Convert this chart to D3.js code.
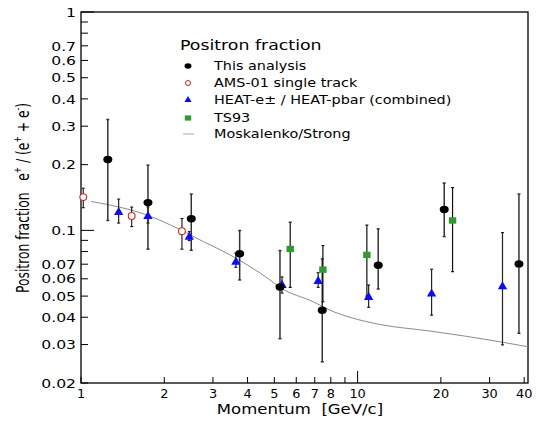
<!DOCTYPE html>
<html>
<head>
<meta charset="utf-8">
<script src="https://cdn.jsdelivr.net/npm/d3@7"></script>
<style>
  body { margin: 0; background: #fff; }
  svg { display: block; font-family: "DejaVu Sans", sans-serif; }
  text { white-space: pre; }
</style>
</head>
<body>
<svg id="chart" width="536" height="422"></svg>
<script>
// This analysis
const thisX = [1.25, 1.746, 2.504, 3.746, 5.24, 7.45, 11.87, 20.56, 38.3];
const thisY = [0.211, 0.134, 0.113, 0.0782, 0.055, 0.0431, 0.0692, 0.1246, 0.0702];
const thisLo = [0.111, 0.082, 0.0811, 0.0593, 0.0319, 0.025, 0.0539, 0.0937, 0.0338];
const thisHi = [0.322, 0.199, 0.1466, 0.0998, 0.0808, 0.074, 0.1016, 0.1647, 0.1466];

// AMS-01 single track
const amsX = [1.019, 1.525, 2.317];
const amsY = [0.142, 0.1165, 0.0992];
const amsLo = [0.127, 0.1041, 0.082];
const amsHi = [0.156, 0.1278, 0.1133];

// HEAT combined
const heatX = [1.368, 1.746, 2.463, 3.63, 5.33, 7.2, 10.96, 18.51, 33.4];
const heatY = [0.1216, 0.1165, 0.0937, 0.0719, 0.0564, 0.0588, 0.0497, 0.0515, 0.0556];
const heatLo = [0.108, 0.108, 0.0898, 0.0677, 0.0516, 0.0548, 0.0444, 0.0409, 0.0299];
const heatHi = [0.139, 0.128, 0.0987, 0.0787, 0.0612, 0.064, 0.0562, 0.0664, 0.0977];

// TS93
const tsX = [5.706, 7.49, 10.8, 22.04];
const tsY = [0.0822, 0.0661, 0.0772, 0.111];
const tsLo = [0.0548, 0.0471, 0.05, 0.0647];
const tsHi = [0.109, 0.0852, 0.1057, 0.157];

// Moskalenko/Strong model
const modelX = [1.087, 1.37, 1.75, 2.1, 2.77, 3.46, 4.82, 5.24, 6.91, 7.94, 9.38, 12.0, 18.25, 32.7, 41.3];
const modelY = [0.1356, 0.128, 0.117, 0.106, 0.0888, 0.0772, 0.0593, 0.0548, 0.0471, 0.0431, 0.040, 0.0371, 0.0346, 0.0309, 0.0293];

const yTicks = [0.02, 0.03, 0.04, 0.05, 0.06, 0.07, 0.08, 0.09, 0.1, 0.2, 0.3, 0.4, 0.5, 0.6, 0.7, 0.8, 0.9, 1];
const yLabels = [0.02, 0.03, 0.04, 0.05, 0.06, 0.07, 0.1, 0.2, 0.3, 0.4, 0.5, 0.6, 0.7, 1];
const xTicks = [1, 2, 3, 4, 5, 6, 7, 8, 9, 10, 20, 30, 40];
const xLabels = [1, 2, 3, 4, 5, 6, 7, 8, 10, 20, 30, 40];

const legendNames = ["This analysis", "AMS-01 single track", "HEAT-e\u00b1 / HEAT-pbar (combined)", "TS93", "Moskalenko/Strong"];

const svg = d3.select("#chart");
const box = { left: 81, right: 528, top: 12, bottom: 383 };
const stretch = 1.2; // text in the original is a bit wider than DejaVu

const x = d3.scaleLog().domain([1, 41.3]).range([box.left, box.right]);
const y = d3.scaleLog().domain([0.02, 1]).range([box.bottom, box.top]);

// frame
svg.append("rect")
  .attr("x", box.left).attr("y", box.top)
  .attr("width", box.right - box.left).attr("height", box.bottom - box.top)
  .attr("fill", "none").attr("stroke", "#000").attr("stroke-width", 1.3);

// y ticks (inward)
svg.append("g").selectAll("line").data(yTicks).join("line")
  .attr("x1", box.left).attr("x2", d => (d === 0.1 || d === 1) ? box.left + 13 : box.left + 7)
  .attr("y1", d => y(d)).attr("y2", d => y(d))
  .attr("stroke", "#000").attr("stroke-width", 1);

svg.append("g").selectAll("text").data(yLabels).join("text")
  .attr("transform", d => `translate(76,${y(d)}) scale(${stretch},1)`)
  .attr("dy", "0.36em")
  .attr("text-anchor", "end").attr("font-size", 13)
  .text(d => d);

// x ticks (inward)
svg.append("g").selectAll("line").data(xTicks).join("line")
  .attr("x1", d => x(d)).attr("x2", d => x(d))
  .attr("y1", box.bottom).attr("y2", d => d === 10 ? box.bottom - 12 : box.bottom - 6)
  .attr("stroke", "#000").attr("stroke-width", 1);

svg.append("g").selectAll("text").data(xLabels).join("text")
  .attr("transform", d => `translate(${x(d)},398) scale(1.12,1)`)
  .attr("text-anchor", "middle").attr("font-size", 11.5)
  .text(d => d);

svg.append("text")
  .attr("transform", `translate(300,414) scale(1.18,1)`)
  .attr("text-anchor", "middle").attr("font-size", 14)
  .text("Momentum  [GeV/c]");

// y label
const yl = svg.append("text")
  .attr("transform", "translate(29,198) rotate(-90)")
  .attr("text-anchor", "middle").attr("font-size", 18)
  .attr("textLength", 190).attr("lengthAdjust", "spacingAndGlyphs");
yl.append("tspan").text("Positron fraction   e");
yl.append("tspan").attr("font-size", 11).attr("dy", -8).text("+");
yl.append("tspan").attr("dy", 8).text(" / (e");
yl.append("tspan").attr("font-size", 11).attr("dy", -8).text("+");
yl.append("tspan").attr("dy", 8).text(" + e");
yl.append("tspan").attr("font-size", 11).attr("dy", -8).text("-");
yl.append("tspan").attr("dy", 8).text(")");

// model curve
const plot = svg.append("g");
plot.append("path")
  .datum(d3.zip(modelX, modelY))
  .attr("fill", "none").attr("stroke", "#8c8c8c").attr("stroke-width", 1)
  .attr("d", d3.line().x(d => x(d[0])).y(d => y(d[1])).curve(d3.curveMonotoneX));

function errorBars(xs, lo, hi, color, w) {
  const g = plot.append("g").attr("stroke", color).attr("stroke-width", w);
  const rows = d3.range(xs.length);
  g.selectAll(".v").data(rows).join("line")
    .attr("x1", i => x(xs[i])).attr("x2", i => x(xs[i]))
    .attr("y1", i => y(lo[i])).attr("y2", i => y(hi[i]));
  g.selectAll(".t").data(rows).join("line")
    .attr("x1", i => x(xs[i]) - 1.5).attr("x2", i => x(xs[i]) + 1.5)
    .attr("y1", i => y(hi[i])).attr("y2", i => y(hi[i]));
  g.selectAll(".b").data(rows).join("line")
    .attr("x1", i => x(xs[i]) - 1.5).attr("x2", i => x(xs[i]) + 1.5)
    .attr("y1", i => y(lo[i])).attr("y2", i => y(lo[i]));
}

errorBars(thisX, thisLo, thisHi, "#333", 1.5);
errorBars(amsX, amsLo, amsHi, "#111", 1.1);
errorBars(heatX, heatLo, heatHi, "#222", 1.2);
errorBars(tsX, tsLo, tsHi, "#111", 1.2);

const tri = d3.symbol().type(d3.symbolTriangle).size(38);

plot.append("g").selectAll("circle").data(d3.range(amsX.length)).join("circle")
  .attr("cx", i => x(amsX[i])).attr("cy", i => y(amsY[i])).attr("r", 3.4)
  .attr("fill", "#fff").attr("stroke", "#d42020").attr("stroke-width", 1.1);

plot.append("g").selectAll("path").data(d3.range(heatX.length)).join("path")
  .attr("transform", i => `translate(${x(heatX[i])},${y(heatY[i]) + 0.5})`)
  .attr("d", tri).attr("fill", "#0a0aff");

plot.append("g").selectAll("rect").data(d3.range(tsX.length)).join("rect")
  .attr("x", i => x(tsX[i]) - 3.7).attr("y", i => y(tsY[i]) - 3.2)
  .attr("width", 7.4).attr("height", 6.4).attr("fill", "#2f9a2f");

plot.append("g").selectAll("ellipse").data(d3.range(thisX.length)).join("ellipse")
  .attr("cx", i => x(thisX[i])).attr("cy", i => y(thisY[i]))
  .attr("rx", 4.5).attr("ry", 3.7).attr("fill", "#000");

// legend
const lg = svg.append("g");
const rowY = [66, 83, 100, 118, 134];
lg.append("text").attr("transform", `translate(180,50) scale(1.24,1)`)
  .attr("font-size", 14).text("Positron fraction");
lg.selectAll(".name").data(legendNames).join("text")
  .attr("transform", (d, i) => `translate(214,${rowY[i]}) scale(${stretch},1)`)
  .attr("dy", "0.36em")
  .attr("font-size", 12).text(d => d);
const mx = 188;
lg.append("ellipse").attr("cx", mx).attr("cy", rowY[0]).attr("rx", 3.5).attr("ry", 2.8).attr("fill", "#000");
lg.append("circle").attr("cx", mx).attr("cy", rowY[1]).attr("r", 2.5)
  .attr("fill", "none").attr("stroke", "#d42020").attr("stroke-width", 1);
lg.append("path").attr("transform", `translate(${mx},${rowY[2]})`)
  .attr("d", d3.symbol().type(d3.symbolTriangle).size(22)).attr("fill", "#0a0aff");
lg.append("rect").attr("x", mx - 3.2).attr("y", rowY[3] - 2.6).attr("width", 6.4).attr("height", 5.2).attr("fill", "#2f9a2f");
lg.append("line").attr("x1", mx - 5).attr("x2", mx + 6).attr("y1", rowY[4]).attr("y2", rowY[4])
  .attr("stroke", "#aaa").attr("stroke-width", 1);
</script>
</body>
</html>
